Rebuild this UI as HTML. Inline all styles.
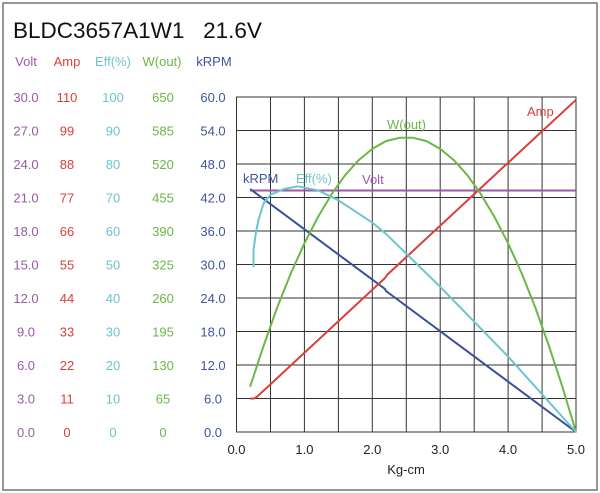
<!DOCTYPE html>
<html><head><meta charset="utf-8"><style>
html,body{margin:0;padding:0;background:#fff;}
svg{display:block;font-family:"Liberation Sans",sans-serif;}
</style></head><body>
<svg width="600" height="493" viewBox="0 0 600 493" xmlns="http://www.w3.org/2000/svg">
<rect x="3" y="3" width="594" height="487" fill="#fff" stroke="#777" stroke-width="1.5"/>
<text x="13" y="38" font-size="22.5" fill="#111">BLDC3657A1W1&#160;&#160;&#160;21.6V</text>
<g font-size="13" text-anchor="middle">
<text x="26" y="66" fill="#9b59a8">Volt</text>
<text x="67" y="66" fill="#d9403a">Amp</text>
<text x="113" y="66" fill="#6cc5cc">Eff(%)</text>
<text x="162" y="66" fill="#6ab846">W(out)</text>
<text x="214" y="66" fill="#3f559e">kRPM</text>
</g>
<g stroke="#333" stroke-width="1" fill="none">
<rect x="236.5" y="97" width="339.5" height="335"/>
<path d="M270.5 97V432M304.4 97V432M338.4 97V432M372.3 97V432M406.3 97V432M440.2 97V432M474.2 97V432M508.1 97V432M542.1 97V432"/>
<path d="M236.5 130.5H576M236.5 164H576M236.5 197.5H576M236.5 231H576M236.5 264.5H576M236.5 298H576M236.5 331.5H576M236.5 365H576M236.5 398.5H576"/>
</g>
<g font-size="13" text-anchor="middle">
<g fill="#9b59a8"><text x="26" y="102">30.0</text><text x="26" y="135.5">27.0</text><text x="26" y="169">24.0</text><text x="26" y="202.5">21.0</text><text x="26" y="236">18.0</text><text x="26" y="269.5">15.0</text><text x="26" y="303">12.0</text><text x="26" y="336.5">9.0</text><text x="26" y="370">6.0</text><text x="26" y="403.5">3.0</text><text x="26" y="437">0.0</text></g>
<g fill="#d9403a"><text x="67" y="102">110</text><text x="67" y="135.5">99</text><text x="67" y="169">88</text><text x="67" y="202.5">77</text><text x="67" y="236">66</text><text x="67" y="269.5">55</text><text x="67" y="303">44</text><text x="67" y="336.5">33</text><text x="67" y="370">22</text><text x="67" y="403.5">11</text><text x="67" y="437">0</text></g>
<g fill="#6cc5cc"><text x="113" y="102">100</text><text x="113" y="135.5">90</text><text x="113" y="169">80</text><text x="113" y="202.5">70</text><text x="113" y="236">60</text><text x="113" y="269.5">50</text><text x="113" y="303">40</text><text x="113" y="336.5">30</text><text x="113" y="370">20</text><text x="113" y="403.5">10</text><text x="113" y="437">0</text></g>
<g fill="#6ab846"><text x="163" y="102">650</text><text x="163" y="135.5">585</text><text x="163" y="169">520</text><text x="163" y="202.5">455</text><text x="163" y="236">390</text><text x="163" y="269.5">325</text><text x="163" y="303">260</text><text x="163" y="336.5">195</text><text x="163" y="370">130</text><text x="163" y="403.5">65</text><text x="163" y="437">0</text></g>
<g fill="#3f559e"><text x="213" y="102">60.0</text><text x="213" y="135.5">54.0</text><text x="213" y="169">48.0</text><text x="213" y="202.5">42.0</text><text x="213" y="236">36.0</text><text x="213" y="269.5">30.0</text><text x="213" y="303">24.0</text><text x="213" y="336.5">18.0</text><text x="213" y="370">12.0</text><text x="213" y="403.5">6.0</text><text x="213" y="437">0.0</text></g>
<g fill="#222"><text x="236.5" y="454">0.0</text><text x="304.4" y="454">1.0</text><text x="372.3" y="454">2.0</text><text x="440.2" y="454">3.0</text><text x="508.1" y="454">4.0</text><text x="576" y="454">5.0</text><text x="406" y="474">Kg-cm</text></g>
</g>
<g fill="none" stroke-width="2" stroke-linejoin="round">
<path d="M250.1 190.5H576" stroke="#9b59a8"/>
<path d="M250.1 189L385 289L386 291L576 432" stroke="#3a4f9a"/>
<path d="M250.1 398.5L254 398.5L257 396.8L385 278L387 275L576 99.8" stroke="#d9403a"/>
<path d="M250.1 386.8L263.7 345.5L277.2 307.5L290.8 273.4L304.4 243.3L318 217L331.6 194.2L345.1 175.2L358.7 160.1L372.3 148.9L385.9 141.1L399.5 137.8L413 137.8L426.6 141.1L440.2 148.9L453.8 160.1L467.4 175.2L480.9 194.2L494.5 217L508.1 243.3L521.7 273.4L535.3 307.5L548.8 345.5L562.4 386.8L576 432" stroke="#6ab846"/>
<path d="M253.5 267.3L253.5 250L256 232L258.5 219.8L263.7 203.1L270.5 194.7L284 189.1L297.6 186.3L318 190.3L338.4 200.3L372.3 222.6L385.9 233.8L440.2 286.8L508.1 356.6L576 432" stroke="#6cc5cc"/>
</g>
<g font-size="13">
<text x="243" y="183" fill="#3f559e">kRPM</text>
<text x="296" y="183" fill="#6cc5cc">Eff(%)</text>
<text x="362" y="184" fill="#9b59a8">Volt</text>
<text x="387" y="129" fill="#6ab846">W(out)</text>
<text x="527" y="116" fill="#d9403a">Amp</text>
</g>
</svg>
</body></html>
